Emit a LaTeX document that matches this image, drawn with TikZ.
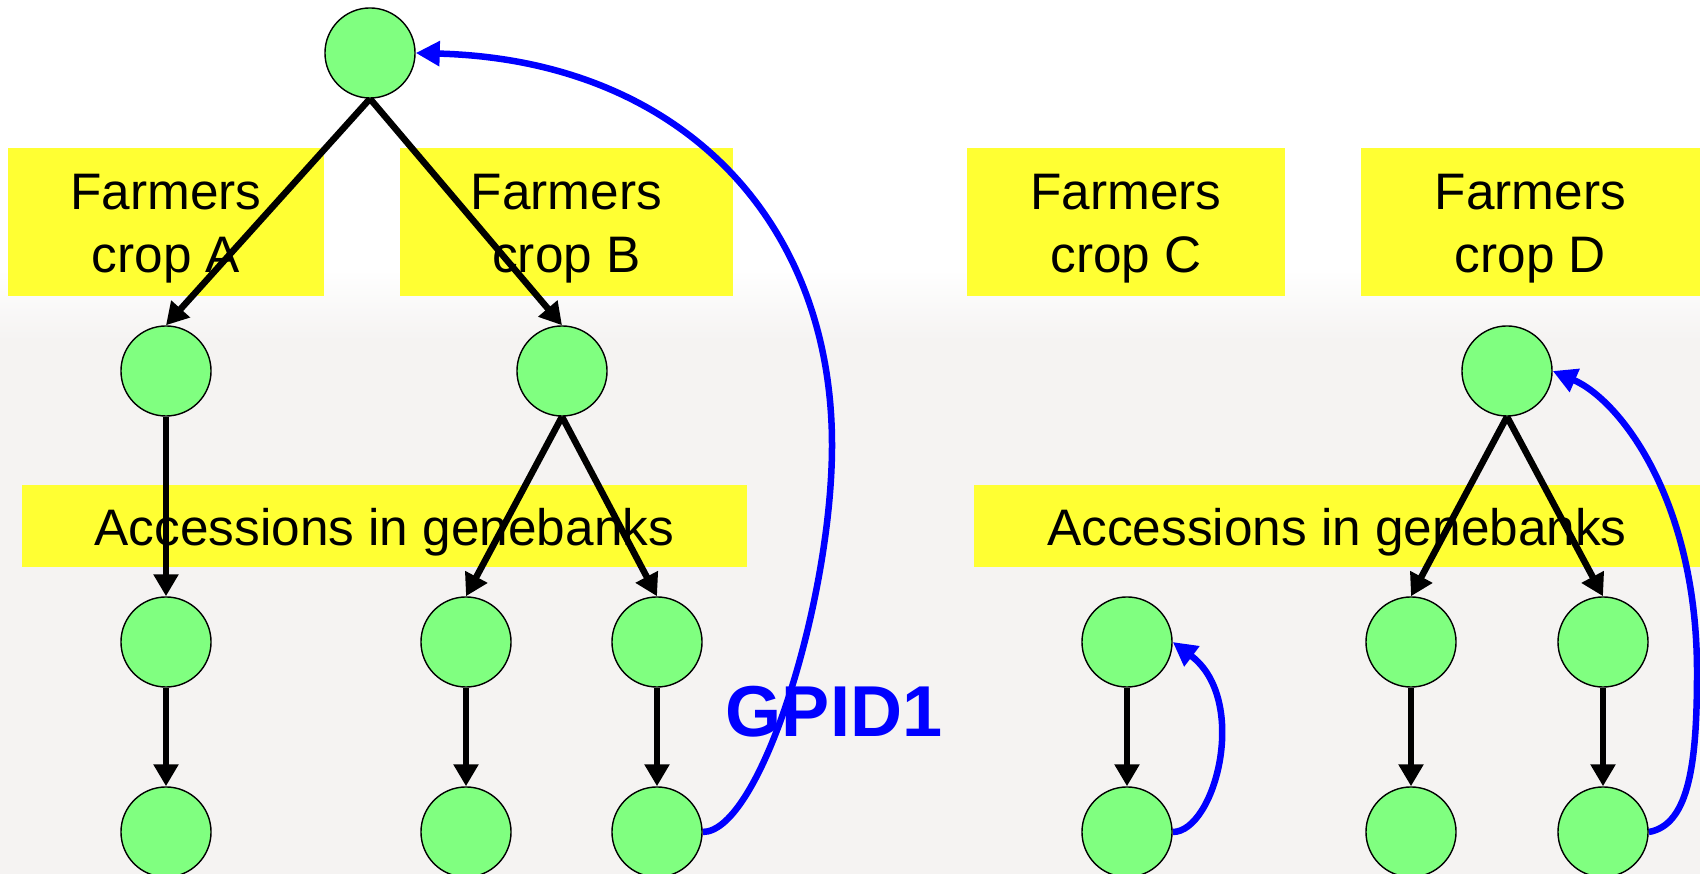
\documentclass[tikz,border=0pt]{standalone}
\usepackage{fontspec}
\setmainfont{Liberation Sans}
\usetikzlibrary{arrows.meta,calc}
\definecolor{nodegreen}{RGB}{128,255,128}
\definecolor{labelyellow}{RGB}{255,255,51}
\definecolor{linkblue}{RGB}{0,0,255}
\definecolor{paper}{RGB}{245,243,242}
\pgfdeclarelayer{bg}
\pgfdeclarelayer{arrowlayer}
\pgfsetlayers{bg,arrowlayer,main}

\begin{document}
\begin{tikzpicture}[x=0.01cm,y=-0.01cm,
  acc/.style={circle,draw=black,line width=0.14mm,fill=nodegreen,minimum size=9mm,inner sep=0pt},
  band/.style={fill=labelyellow,inner sep=0pt,draw=none},
  lbl/.style={font=\fontsize{14.6}{17.9}\selectfont,align=center,inner sep=0pt},
  descent/.style={line width=0.65mm,-{Triangle[length=2.2mm,width=2.4mm]}},
  link/.style={line width=0.65mm,linkblue,-{Triangle[length=2.4mm,width=2.4mm]}}]
\useasboundingbox (0,0) rectangle (1700,874);

\begin{pgfonlayer}{bg}
  % page backdrop
  \fill[white] (0,0) rectangle (1700,874);
  \shade[top color=white,bottom color=paper] (0,270) rectangle (1700,340);
  \fill[paper] (0,340) rectangle (1700,874);
  % yellow bands
  \node[band,minimum width=31.6mm,minimum height=14.8mm] (boxA) at (166,222) {};
  \node[band,minimum width=33.3mm,minimum height=14.8mm] (boxB) at (566.5,222) {};
  \node[band,minimum width=31.8mm,minimum height=14.8mm] (boxC) at (1126,222) {};
  \node[band,minimum width=33.9mm,minimum height=14.8mm] (boxD) at (1530.5,222) {};
  \node[band,minimum width=72.5mm,minimum height=8.25mm] (accL) at (384.4,525.8) {};
  \node[band,minimum width=72.6mm,minimum height=8.25mm] (accR) at (1337,525.8) {};
  % band labels
  \node[lbl] (labA) at ($(boxA.center)+(0,7)$) {Farmers\\crop A};
  \node[lbl] (labB) at ($(boxB.center)+(0,7)$) {Farmers\\crop B};
  \node[lbl] (labC) at ($(boxC.center)+(0,7)$) {Farmers\\crop C};
  \node[lbl] (labD) at ($(boxD.center)+(0,7)$) {Farmers\\crop D};
  \node[lbl] (labAccL) at ($(accL.center)+(0,6)$) {Accessions in genebanks};
  \node[lbl] (labAccR) at ($(accR.center)+(0,6)$) {Accessions in genebanks};
\end{pgfonlayer}

% germplasm nodes
\node[acc] (top) at (370,53) {};
\node[acc] (a1) at (166,371) {};
\node[acc] (b1) at (562,371) {};
\node[acc] (d1) at (1507,371) {};
\node[acc] (a2) at (166,642) {};
\node[acc] (ba2) at (466,642) {};
\node[acc] (bb2) at (657,642) {};
\node[acc] (c2) at (1127,642) {};
\node[acc] (da2) at (1411,642) {};
\node[acc] (db2) at (1603,642) {};
\node[acc] (a3) at (166,832) {};
\node[acc] (ba3) at (466,832) {};
\node[acc] (bb3) at (657,832) {};
\node[acc] (c3) at (1127,832) {};
\node[acc] (da3) at (1411,832) {};
\node[acc] (db3) at (1603,832) {};

\node[font=\fontsize{20.5}{24}\selectfont\bfseries,text=linkblue,anchor=base,inner sep=0pt] (gpid) at (834,737) {GPID1};

\begin{pgfonlayer}{arrowlayer}
  % derivation arrows
  \draw[descent] (top.south) -- (a1.north);
  \draw[descent] (top.south) -- (b1.north);
  \draw[descent] (a1.south) -- (a2.north);
  \draw[descent] (b1.south) -- (ba2.north);
  \draw[descent] (b1.south) -- (bb2.north);
  \draw[descent] (d1.south) -- (da2.north);
  \draw[descent] (d1.south) -- (db2.north);
  \draw[descent] (a2.south) -- (a3.north);
  \draw[descent] (ba2.south) -- (ba3.north);
  \draw[descent] (bb2.south) -- (bb3.north);
  \draw[descent] (c2.south) -- (c3.north);
  \draw[descent] (da2.south) -- (da3.north);
  \draw[descent] (db2.south) -- (db3.north);
  % identity links back to the origin
  \draw[link] (bb3.east) .. controls (760,832) and (832,600) .. (832,445)
                         .. controls (832,220) and (680,60) .. (top.east);
  \draw[link] (c3.east) .. controls (1215,832) and (1250,700) .. (c2.east);
  \draw[link] (db3.east) .. controls (1690,825) and (1697,760) .. (1697,672)
                         .. controls (1697,500) and (1620,400) .. (d1.east);
\end{pgfonlayer}
\end{tikzpicture}
\end{document}
